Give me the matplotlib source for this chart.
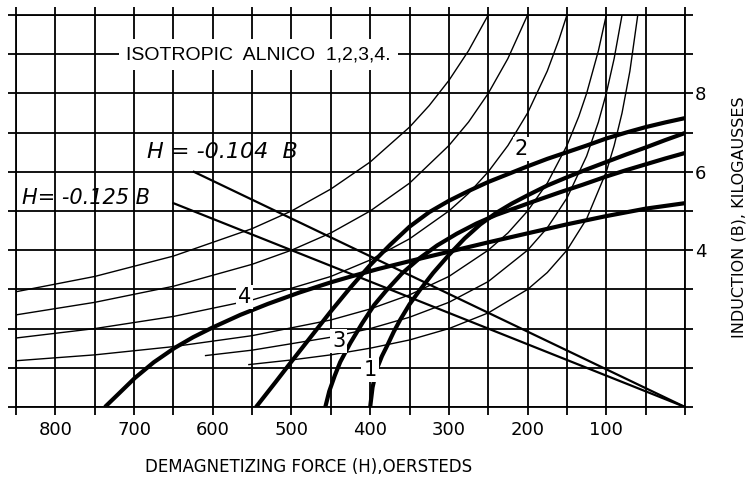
import numpy as np
import matplotlib
matplotlib.use("Agg")
import matplotlib.pyplot as plt

# ---- data (H in oersteds, B in kilogausses) ----
H2 = [545, 520, 500, 475, 450, 425, 400, 375, 350, 325, 300, 275, 250, 225, 200, 175, 150, 125, 100, 75, 50, 25, 0]
B2 = [0, 0.64, 1.16, 1.80, 2.44, 3.05, 3.62, 4.13, 4.60, 4.97, 5.26, 5.51, 5.74, 5.94, 6.14, 6.33, 6.50, 6.67, 6.85, 7.00, 7.14, 7.26, 7.37]

H1 = [400, 397, 392, 385, 378, 370, 362, 350, 337, 320, 300, 280, 260, 240, 220, 200, 175, 150, 125, 100, 75, 50, 25, 0]
B1 = [0, 0.50, 0.95, 1.30, 1.58, 1.92, 2.22, 2.62, 2.98, 3.42, 3.88, 4.30, 4.66, 4.95, 5.19, 5.40, 5.65, 5.86, 6.06, 6.25, 6.44, 6.62, 6.81, 6.99]

H3 = [457, 452, 445, 438, 425, 410, 395, 380, 360, 337, 315, 290, 265, 240, 215, 190, 160, 130, 100, 75, 50, 25, 0]
B3 = [0, 0.40, 0.80, 1.15, 1.64, 2.14, 2.60, 2.96, 3.40, 3.80, 4.12, 4.42, 4.68, 4.90, 5.08, 5.26, 5.47, 5.67, 5.88, 6.04, 6.19, 6.34, 6.48]

H4 = [737, 720, 699, 675, 649, 625, 600, 565, 530, 490, 450, 426, 390, 350, 300, 250, 200, 150, 100, 50, 0]
B4 = [0, 0.33, 0.74, 1.14, 1.50, 1.78, 2.03, 2.35, 2.63, 2.92, 3.18, 3.32, 3.52, 3.72, 3.96, 4.20, 4.43, 4.66, 4.87, 5.06, 5.20]

curve_labels = ["2", "1", "3", "4"]

# thin energy-product curves
E25_H = [850, 750, 650, 550, 500, 450, 400, 350, 325, 300, 275, 250]
E25_B = [2.94, 3.33, 3.85, 4.55, 5.00, 5.56, 6.25, 7.14, 7.69, 8.33, 9.09, 10.0]
E20_H = [850, 750, 650, 550, 500, 450, 400, 350, 300, 275, 250, 225, 200]
E20_B = [2.35, 2.67, 3.08, 3.64, 4.00, 4.44, 5.00, 5.71, 6.67, 7.27, 8.00, 8.89, 10.0]
E15_H = [850, 750, 650, 550, 450, 400, 350, 300, 275, 250, 225, 200, 175, 160, 150]
E15_B = [1.76, 2.00, 2.31, 2.73, 3.33, 3.75, 4.29, 5.00, 5.45, 6.00, 6.67, 7.50, 8.57, 9.38, 10.0]
E10_H = [850, 750, 650, 550, 450, 400, 350, 300, 250, 225, 200, 175, 150, 135, 125, 110, 100]
E10_B = [1.18, 1.33, 1.54, 1.82, 2.22, 2.50, 2.86, 3.33, 4.00, 4.44, 5.00, 5.71, 6.67, 7.41, 8.00, 9.09, 10.0]
E08_H = [610, 550, 450, 400, 350, 300, 250, 200, 175, 150, 125, 110, 100, 90, 80]
E08_B = [1.31, 1.45, 1.78, 2.00, 2.29, 2.67, 3.20, 4.00, 4.57, 5.33, 6.40, 7.27, 8.00, 8.89, 10.0]
E06_H = [555, 500, 450, 400, 350, 300, 250, 200, 175, 150, 125, 100, 90, 80, 70, 60]
E06_B = [1.08, 1.20, 1.33, 1.50, 1.71, 2.00, 2.40, 3.00, 3.43, 4.00, 4.80, 6.00, 6.67, 7.50, 8.57, 10.0]

# load lines through the origin
L104_H = [624, 0]
L104_B = [6.0, 0]
L125_H = [650, 0]
L125_B = [5.2, 0]

x_ticks = list(range(0, 851, 50))
x_labels = {100: "100", 200: "200", 300: "300", 400: "400",
            500: "500", 600: "600", 700: "700", 800: "800"}
y_ticks = list(range(0, 11))
y_labels = {4: "4", 6: "6", 8: "8"}

# ---- figure ----
fig = plt.figure(figsize=(7.5, 4.84), dpi=100)
ax = fig.add_axes([16 / 750, 77 / 484, 669 / 750, 392 / 484])
ax.set_xlim(850, 0)
ax.set_ylim(0, 10)

ax.set_xticks(x_ticks)
ax.set_xticklabels([x_labels.get(t, "") for t in x_ticks])
ax.set_yticks(y_ticks)
ax.set_yticklabels([y_labels.get(t, "") for t in y_ticks])
ax.tick_params(axis="both", direction="out", length=6, width=1.3, color="black",
               top=True, bottom=True, left=True, right=True,
               labelleft=False, labelright=True, labelbottom=True, labeltop=False)
ax.tick_params(axis="x", pad=4, labelsize=13)
ax.tick_params(axis="y", pad=1, labelsize=13)
ax.grid(True, color="black", lw=1.3)
for s in ax.spines.values():
    s.set_linewidth(1.3)
ax.set_axisbelow(True)

thin = dict(color="black", lw=1.0, solid_capstyle="butt")
for hh, bb in [(E25_H, E25_B), (E20_H, E20_B), (E15_H, E15_B),
               (E10_H, E10_B), (E08_H, E08_B), (E06_H, E06_B)]:
    ax.plot(hh, bb, **thin, clip_on=True)

ax.plot(L104_H, L104_B, color="black", lw=1.6)
ax.plot(L125_H, L125_B, color="black", lw=1.6)

for hh, bb in [(H2, B2), (H1, B1), (H3, B3), (H4, B4)]:
    ax.plot(hh, bb, color="black", lw=3.0, solid_joinstyle="round", solid_capstyle="butt")

lab = dict(fontsize=15, ha="center", va="center", color="black",
           bbox=dict(fc="white", ec="none", pad=1.5), zorder=5)
ax.text(208, 6.58, curve_labels[0], **lab)
ax.text(400, 0.94, curve_labels[1], **lab)
ax.text(440, 1.68, curve_labels[2], **lab)
ax.text(560, 2.81, curve_labels[3], **lab)

ax.text(542, 8.98, "ISOTROPIC  ALNICO  1,2,3,4.", fontsize=14, ha="center", va="center",
        family="Liberation Sans",
        bbox=dict(fc="white", ec="none", pad=5), zorder=5)

ax.text(684, 6.5, "H = -0.104  B", fontsize=16, style="italic", ha="left", va="center")
ax.text(842, 5.33, "H= -0.125 B", fontsize=15, style="italic", ha="left", va="center")

fig.text(309 / 750, 1 - 467 / 484, "DEMAGNETIZING FORCE (H),OERSTEDS",
         fontsize=12, ha="center", va="center")
fig.text(739 / 750, 1 - 217 / 484, "INDUCTION (B), KILOGAUSSES",
         fontsize=11.5, ha="center", va="center", rotation=90)

fig.savefig("out.png", dpi=100)
